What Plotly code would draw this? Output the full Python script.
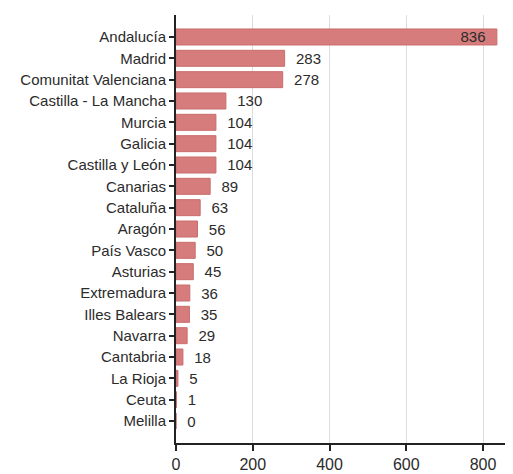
import plotly.graph_objects as go

regions = ["Andalucía", "Madrid", "Comunitat Valenciana", "Castilla - La Mancha",
           "Murcia", "Galicia", "Castilla y León", "Canarias", "Cataluña", "Aragón",
           "País Vasco", "Asturias", "Extremadura", "Illes Balears", "Navarra",
           "Cantabria", "La Rioja", "Ceuta", "Melilla"]
values = [836, 283, 278, 130, 104, 104, 104, 89, 63, 56, 50, 45, 36, 35, 29, 18, 5, 1, 0]
x_ticks = [0, 200, 400, 600, 800]

max_v = max(values)
positions = ["inside" if v == max_v else "outside" for v in values]
texts = [str(v) + "  " if v == max_v else "  " + str(v) for v in values]
lab_font = dict(family="Liberation Sans, Arial", size=15, color="#2b2b2b")

fig = go.Figure(go.Bar(
    x=values, y=regions, orientation="h",
    text=texts, textposition=positions, insidetextanchor="end",
    textfont=lab_font, insidetextfont=lab_font, outsidetextfont=lab_font,
    marker=dict(color="#d67c7c", line=dict(color="#c96d6d", width=1)),
    cliponaxis=False,
))

fig.update_layout(
    width=505, height=466,
    margin=dict(l=168, r=0, t=7, b=31),
    paper_bgcolor="white", plot_bgcolor="white",
    bargap=0.25, showlegend=False,
    uniformtext=dict(minsize=15, mode="show"),
    font=dict(family="Liberation Sans, Arial", color="#2b2b2b"),
)
fig.update_xaxes(
    range=[0, 878], tickvals=x_ticks, showgrid=True, gridcolor="#dcdcdc", gridwidth=1,
    showline=True, linecolor="#222", linewidth=2, ticks="outside", ticklen=6,
    tickcolor="#222", tickwidth=2, tickfont=dict(size=16, color="#2b2b2b"), zeroline=False,
)
fig.update_yaxes(
    categoryorder="array", categoryarray=regions,
    range=[len(regions) - 1 + 1.03, -1.03], autorange=False,
    showline=True, linecolor="#222", linewidth=2, ticks="outside", ticklen=5,
    tickcolor="#222", tickwidth=1.5, tickfont=dict(size=15, color="#2b2b2b"),
    showgrid=False,
)
fig.write_html("out.html")
